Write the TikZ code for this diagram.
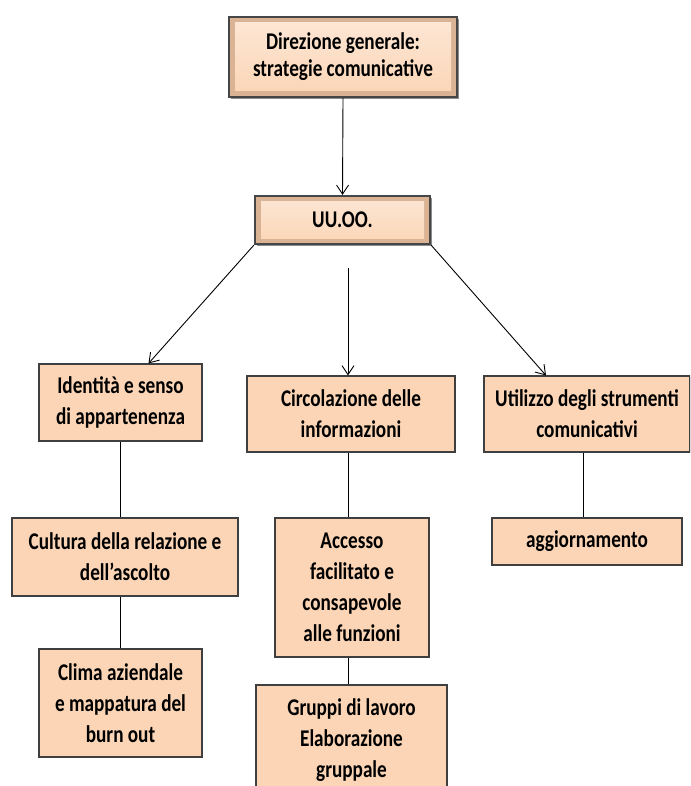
\documentclass[tikz,border=0pt]{standalone}
\usepackage{fontspec}
\setmainfont{Carlito}[FakeStretch=0.8]
\usetikzlibrary{arrows.meta,shadows}
\definecolor{peach}{HTML}{FBD5B5}
\definecolor{peachlight}{HTML}{FDE7D6}
\definecolor{peachdark}{HTML}{D9B394}
\definecolor{boxline}{HTML}{3F3F3F}
\tikzset{
  flatbox/.style={draw=boxline, line width=1.1pt, fill=peach, align=center, inner sep=0pt,
    font=\fontsize{24}{31}\selectfont\bfseries,
    drop shadow={shadow xshift=1.2pt, shadow yshift=-1.2pt, opacity=0.5, fill=black}},
  bevelbox/.style={draw=gray!55!black, line width=2.2pt, fill=peachdark, align=center, inner sep=0pt,
    font=\fontsize{24}{27}\selectfont\bfseries,
    path picture={\shade[top color=peachlight, bottom color=peach]
      ([xshift=6pt,yshift=-6pt]path picture bounding box.north west) rectangle
      ([xshift=-6pt,yshift=6pt]path picture bounding box.south east);},
    drop shadow={shadow xshift=2pt, shadow yshift=-2pt, opacity=0.45, fill=black}},
  arr/.style={-{Straight Barb[length=9pt,width=12pt]}, line width=0.9pt},
  link/.style={line width=0.8pt}
}
\begin{document}
\begin{tikzpicture}[x=1pt,y=-1pt]
\useasboundingbox (0,0) rectangle (690,786);
\clip (0,0) rectangle (690,786);
% top levels
\node[bevelbox, minimum width=228pt, minimum height=80pt] (dir) at (343,57) {Direzione generale:\\strategie comunicative};
\node[bevelbox, minimum width=175pt, minimum height=48pt] (uuoo) at (342.5,220) {UU.OO.};
% three branches
\node[flatbox, minimum width=163pt, minimum height=77pt] (ident) at (120.5,402.5) {Identità e senso\\di appartenenza};
\node[flatbox, minimum width=208pt, minimum height=76pt] (circ) at (351,414) {Circolazione delle\\informazioni};
\node[flatbox, minimum width=206pt, minimum height=76pt] (util) at (587,414) {Utilizzo degli strumenti\\comunicativi};
% second row
\node[flatbox, minimum width=226pt, minimum height=78pt] (cult) at (125,557) {Cultura della relazione e\\dell’ascolto};
\node[flatbox, minimum width=154pt, minimum height=139pt] (acc) at (352,587.5) {Accesso\\facilitato e\\consapevole\\alle funzioni};
\node[flatbox, minimum width=190pt, minimum height=47pt] (agg) at (587,541.5) {aggiornamento};
% third row
\node[flatbox, minimum width=163pt, minimum height=108pt] (clima) at (120.5,703) {Clima aziendale\\e mappatura del\\burn out};
\node[flatbox, minimum width=191pt, minimum height=110pt] (grup) at (351.5,740) {Gruppi di lavoro\\Elaborazione\\gruppale};
% connectors
\coordinate (midtop) at (348,268);
\draw[arr] (dir.south) -- (uuoo.north);
\draw[arr] (uuoo.south west) -- ([xshift=28pt]ident.north);
\draw[arr] (midtop) -- (midtop |- circ.north);
\draw[arr] (uuoo.south east) -- ([xshift=-41pt]util.north);
\draw[link] (ident.south) -- (ident.south |- cult.north);
\draw[link] (clima.north |- cult.south) -- (clima.north);
\draw[link] ([xshift=-3pt]circ.south) -- ([xshift=-3pt]circ.south |- acc.north);
\draw[link] ([xshift=-4pt]acc.south) -- ([xshift=-4pt]acc.south |- grup.north);
\draw[link] ([xshift=-4pt]util.south) -- ([xshift=-4pt]util.south |- agg.north);
\end{tikzpicture}
\end{document}
